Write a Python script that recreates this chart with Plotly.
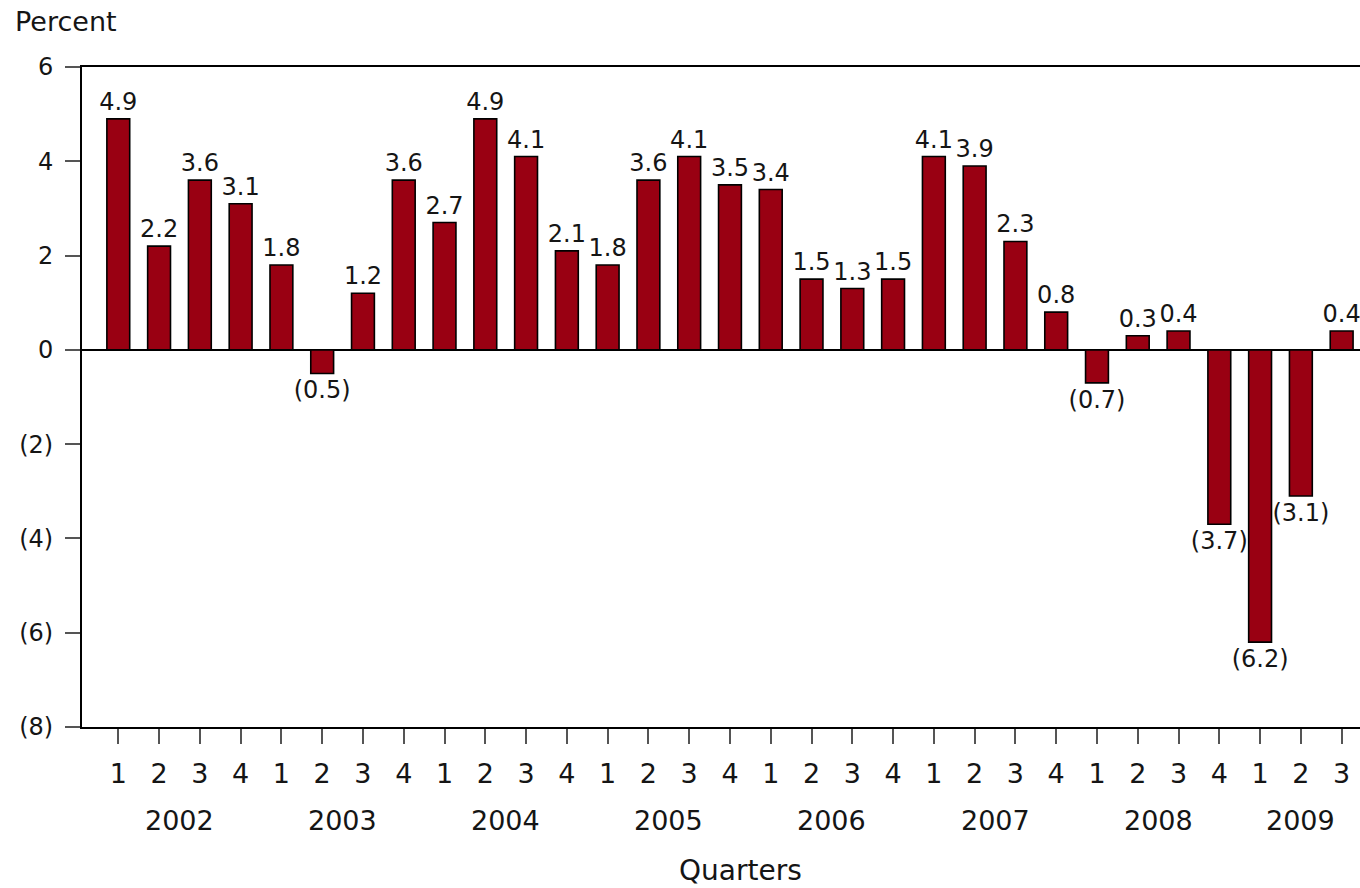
import plotly.graph_objects as go

years = ["2002", "2003", "2004", "2005", "2006", "2007", "2008", "2009"]
year_counts = [4, 4, 4, 4, 4, 4, 4, 3]
quarters = ["1", "2", "3", "4", "1", "2", "3", "4", "1", "2", "3", "4", "1", "2", "3", "4",
            "1", "2", "3", "4", "1", "2", "3", "4", "1", "2", "3", "4", "1", "2", "3"]
values = [4.9, 2.2, 3.6, 3.1,
          1.8, -0.5, 1.2, 3.6,
          2.7, 4.9, 4.1, 2.1,
          1.8, 3.6, 4.1, 3.5,
          3.4, 1.5, 1.3, 1.5,
          4.1, 3.9, 2.3, 0.8,
          -0.7, 0.3, 0.4, -3.7,
          -6.2, -3.1, 0.4]
y_ticks = [6, 4, 2, 0, -2, -4, -6, -8]
y_ticktext = ["6", "4", "2", "0", "(2)", "(4)", "(6)", "(8)"]

FONT = "DejaVu Sans"
TXT = "#151515"
x = list(range(len(values)))
labels = [f"{v:.1f}" if v >= 0 else f"({-v:.1f})" for v in values]

fig = go.Figure()
fig.add_trace(go.Bar(
    x=x, y=values, width=0.56,
    marker=dict(color="#990012", line=dict(color="#000000", width=1.6)),
    text=labels, textposition="outside", constraintext="none", cliponaxis=False,
    textfont=dict(family=FONT, size=24, color=TXT),
    hoverinfo="skip",
))

# year labels centered under each group of quarters
idx = 0
for yr, n in zip(years, year_counts):
    center = sum(x[idx:idx + n]) / n
    fig.add_annotation(x=center, y=-0.141, xref="x", yref="paper", text=yr,
                       showarrow=False, yanchor="middle",
                       font=dict(family=FONT, size=27, color=TXT))
    idx += n

fig.add_annotation(x=(740 - 82) / 1278, xref="paper", y=-0.218, yref="paper",
                   text="Quarters", showarrow=False, yanchor="middle",
                   font=dict(family=FONT, size=28, color=TXT))
fig.add_annotation(x=(13 - 82) / 1278, y=(727 - 21) / 660, xref="paper", yref="paper",
                   text="Percent", showarrow=False, xanchor="left", yanchor="middle",
                   font=dict(family=FONT, size=27, color=TXT))

fig.update_layout(
    width=1360, height=888,
    margin=dict(l=82, r=0, t=67, b=161),
    paper_bgcolor="white", plot_bgcolor="white",
    showlegend=False,
    font=dict(family=FONT, size=23, color=TXT),
    xaxis=dict(
        range=[-0.89, 30.45], tickmode="array", tickvals=x, ticktext=quarters,
        ticks="outside", ticklen=15, tickwidth=1.5, tickcolor="#555555",
        showline=True, linecolor="#000000", linewidth=2, mirror=True,
        showgrid=False, zeroline=False, ticklabelstandoff=7,
        tickfont=dict(family=FONT, size=27, color=TXT),
    ),
    yaxis=dict(
        range=[-8, 6], tickmode="array", tickvals=y_ticks, ticktext=y_ticktext,
        ticks="outside", ticklen=15, tickwidth=1.5, tickcolor="#555555",
        showline=True, linecolor="#000000", linewidth=2,
        showgrid=False, zeroline=True, zerolinecolor="#000000", zerolinewidth=2,
        ticklabelstandoff=7,
        tickfont=dict(family=FONT, size=24, color=TXT),
    ),
)

fig.write_html("out.html", config={"displayModeBar": False},
               post_script="document.body.style.margin='0';document.body.style.overflow='hidden';")
